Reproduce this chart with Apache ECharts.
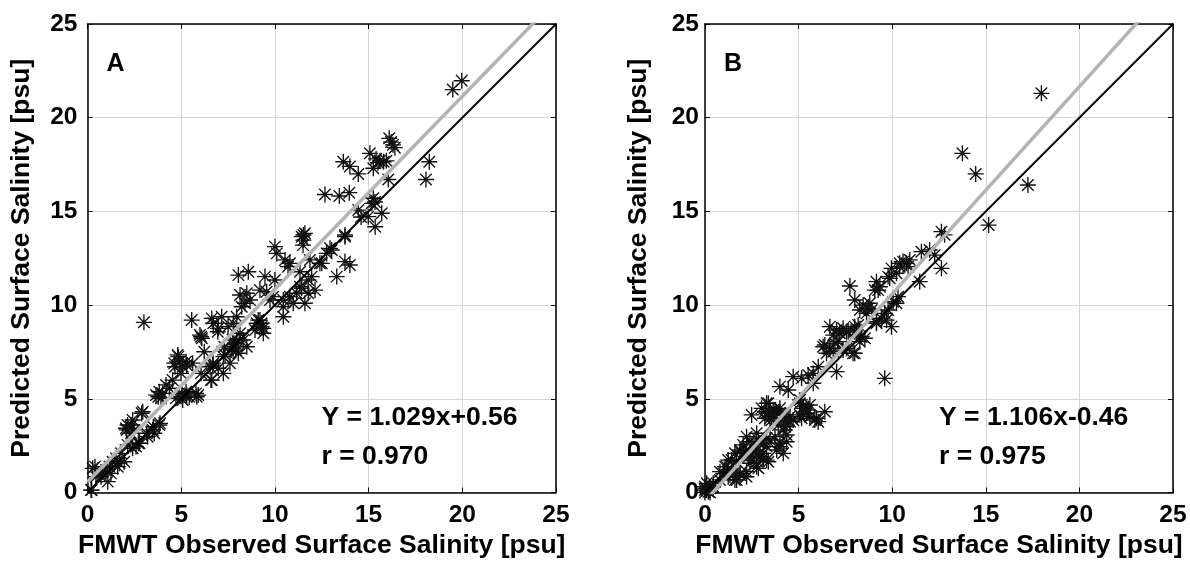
<!DOCTYPE html>
<html><head><meta charset="utf-8">
<script src="https://cdn.jsdelivr.net/npm/echarts@6/dist/echarts.min.js"></script>
<style>html,body{margin:0;padding:0;background:#fff}#c{width:1190px;height:565px}</style>
</head><body><div id="c"></div>
<script>
// Panel A: observed (x) and predicted (y) surface salinity [psu]
const obsA = [0.19,0.22,0.28,0.40,0.45,0.72,0.81,0.99,1.08,1.17,1.25,1.34,1.52,1.61,1.70,1.79,1.96,2.05,2.09,2.14,2.14,2.32,2.36,2.41,2.41,2.50,2.59,2.71,2.77,2.89,2.95,3.01,3.16,3.21,3.48,3.51,3.56,3.66,3.78,3.83,3.83,3.87,3.92,4.01,4.19,4.37,4.54,4.63,4.67,4.72,4.81,4.85,4.90,4.90,4.99,5.03,5.08,5.08,5.26,5.26,5.29,5.29,5.43,5.56,5.61,5.79,5.83,5.91,6.00,6.06,6.06,6.10,6.23,6.54,6.59,6.63,6.63,6.68,6.71,6.71,6.95,6.98,6.98,7.16,7.25,7.25,7.30,7.34,7.50,7.60,7.70,7.75,7.78,7.78,7.87,7.92,7.96,7.96,8.05,8.05,8.14,8.14,8.23,8.31,8.40,8.50,8.50,8.58,8.67,8.94,9.03,9.11,9.20,9.20,9.29,9.29,9.38,9.38,9.47,9.56,9.74,9.91,10.00,10.00,10.10,10.45,10.45,10.45,10.54,10.70,10.80,10.80,10.98,11.16,11.34,11.34,11.43,11.43,11.50,11.52,11.52,11.60,11.60,11.78,11.78,11.87,11.96,12.14,12.40,12.50,12.67,12.76,12.94,13.03,13.30,13.44,13.65,13.74,13.74,13.74,13.97,14.00,14.00,14.45,14.45,14.60,14.98,15.07,15.17,15.25,15.25,15.34,15.35,15.40,15.50,15.60,15.70,15.80,15.95,16.05,16.10,16.20,16.30,16.40,18.06,18.24,19.49,19.97];
const predA = [0.13,0.13,1.29,1.38,0.84,0.84,1.11,1.20,0.58,1.38,1.02,1.64,1.82,1.38,1.56,2.09,1.64,3.43,3.34,2.54,3.60,3.16,3.60,2.36,3.87,3.34,2.45,2.63,2.63,4.23,4.31,9.08,3.16,2.98,3.34,3.51,3.16,5.20,5.11,3.60,5.38,3.69,5.03,5.29,5.74,5.56,6.00,6.90,6.71,5.03,7.34,7.25,5.29,6.98,6.36,5.29,4.94,6.71,5.38,6.98,5.11,6.80,5.11,9.20,6.90,5.29,5.11,5.20,8.40,6.36,8.31,8.23,7.51,6.71,6.00,6.00,9.29,6.80,6.90,9.03,8.58,6.63,8.76,9.38,6.36,7.25,7.78,7.34,8.85,6.90,7.60,8.14,7.69,9.03,7.96,7.60,8.14,9.38,7.43,11.60,8.50,10.54,9.91,8.14,10.10,7.78,10.63,11.78,10.27,8.67,9.03,9.20,9.20,10.80,8.85,9.03,8.50,8.76,11.52,10.71,10.27,10.45,11.34,13.12,12.76,9.38,9.91,10.27,12.41,12.05,10.45,12.23,10.10,10.63,10.98,11.78,10.90,13.65,13.20,13.47,13.74,13.83,10.10,10.63,11.34,12.41,11.52,10.80,12.23,12.23,15.90,12.76,13.03,12.94,11.52,15.82,17.65,13.74,12.32,13.65,16.00,17.40,12.14,17.00,15.07,14.70,14.72,18.10,15.43,15.70,17.30,15.50,14.18,17.80,17.60,17.70,14.90,17.65,17.70,16.70,18.90,18.70,18.55,18.40,16.70,17.65,21.50,21.97];

// Panel B
const obsB = [0.00,0.00,0.05,0.09,0.09,0.18,0.27,0.27,0.00,0.44,0.44,0.80,0.80,0.98,1.07,1.16,1.24,1.24,1.33,1.42,1.42,1.51,1.60,1.60,1.69,1.69,1.87,1.87,1.87,1.87,2.04,2.22,2.22,2.22,2.22,2.22,2.31,2.40,2.40,2.49,2.58,2.76,2.76,2.76,2.76,2.85,2.85,2.94,2.94,3.02,3.11,3.11,3.11,3.20,3.20,3.29,3.29,3.29,3.29,3.29,3.38,3.38,3.47,3.47,3.47,3.56,3.64,3.74,3.74,3.83,3.83,3.91,4.00,4.00,4.00,4.00,4.00,4.18,4.18,4.18,4.27,4.27,4.36,4.36,4.36,4.45,4.54,4.54,4.71,4.71,5.07,5.07,5.07,5.16,5.16,5.25,5.25,5.43,5.51,5.51,5.60,5.60,5.78,5.78,5.87,5.96,6.05,6.05,6.31,6.40,6.40,6.49,6.67,6.67,6.85,6.85,6.94,7.03,7.03,7.11,7.20,7.38,7.38,7.56,7.56,7.65,7.74,7.91,8.00,8.00,8.00,8.00,8.09,8.18,8.27,8.27,8.36,8.45,8.54,8.63,8.72,8.80,8.90,9.07,9.16,9.16,9.16,9.25,9.34,9.43,9.60,9.60,9.70,9.78,9.78,9.87,9.96,9.96,10.05,10.23,10.23,10.31,10.40,10.40,10.58,10.76,10.85,10.94,11.47,11.56,12.00,12.27,12.63,12.63,12.80,13.75,14.46,15.15,17.25,17.97];
const predB = [0.00,0.13,0.22,0.13,0.49,0.04,0.00,0.22,0.31,0.31,0.49,0.67,1.11,1.02,1.38,1.38,0.84,1.73,0.93,1.20,1.73,1.02,0.67,2.09,0.67,1.64,0.93,1.02,2.18,2.27,2.54,0.84,1.11,2.09,2.27,2.98,1.91,1.56,2.71,4.14,1.73,1.38,2.00,2.27,3.16,1.29,2.80,1.91,2.63,4.49,1.82,2.09,2.63,3.96,4.31,1.73,2.45,2.89,4.23,4.76,1.64,4.76,2.80,3.96,4.31,3.87,4.40,2.98,4.40,2.27,4.23,3.60,2.45,2.63,4.23,4.49,5.65,2.09,3.34,3.96,3.51,4.14,2.71,3.07,3.60,5.47,3.78,4.05,3.87,6.18,4.14,4.76,4.94,3.96,6.09,4.49,4.58,4.23,4.40,6.27,4.05,4.67,5.83,6.36,3.87,3.96,3.78,6.71,7.78,4.31,7.87,7.43,7.69,8.85,7.51,8.40,7.96,6.45,8.67,8.05,8.50,7.60,8.76,7.69,8.58,8.58,11.02,7.43,7.43,8.58,8.85,10.27,8.40,8.94,8.05,9.74,8.31,10.00,8.23,9.56,9.83,10.10,9.74,10.80,9.03,9.11,11.25,10.80,10.98,9.29,6.09,9.56,9.20,11.52,9.74,11.43,8.85,11.96,10.18,10.10,11.70,10.45,12.05,12.23,12.32,12.23,12.05,12.41,11.25,12.85,12.94,12.67,11.96,13.92,13.75,18.10,17.00,14.27,16.41,21.30];

// Axis ticks and regression fits shown on the chart
const ticks = [0, 5, 10, 15, 20, 25];
const oneToOne = [0, 25];
const fitA = { slope: 1.029, intercept: 0.56, r: '0.970', label: 'Y = 1.029x+0.56' };
const fitB = { slope: 1.106, intercept: -0.46, r: '0.975', label: 'Y = 1.106x-0.46' };
const panelNames = ['A', 'B'];
const xTitle = 'FMWT Observed Surface Salinity [psu]';
const yTitle = 'Predicted Surface Salinity [psu]';

const FONT = '"Liberation Sans", Arial, sans-serif';
const chart = echarts.init(document.getElementById('c'), null, { renderer: 'canvas' });

const grids = [
  { left: 87.5, top: 24, width: 468.5, height: 468.5 },
  { left: 705, top: 24, width: 468, height: 468.5 }
];
const labelMarginY = [10, 6];

const xAxes = [], yAxes = [], series = [];
grids.forEach((g, i) => {
  const base = { min: 0, max: 25, interval: 5, gridIndex: i };
  xAxes.push(Object.assign({}, base, {
    type: 'value', position: 'bottom',
    axisLine: { show: true, onZero: false, lineStyle: { color: '#000', width: 1.5 } },
    axisTick: { show: true, inside: true, length: 5, lineStyle: { color: '#000', width: 1 } },
    axisLabel: { show: true, margin: 10, color: '#000', fontFamily: FONT, fontWeight: 'bold', fontSize: 24.5 },
    splitLine: { show: true, lineStyle: { color: '#d6d6d6', width: 1 } }
  }));
  xAxes.push(Object.assign({}, base, {
    type: 'value', position: 'top',
    axisLine: { show: true, onZero: false, lineStyle: { color: '#000', width: 1.5 } },
    axisTick: { show: true, inside: true, length: 5, lineStyle: { color: '#000', width: 1 } },
    axisLabel: { show: false }, splitLine: { show: false }
  }));
  yAxes.push(Object.assign({}, base, {
    type: 'value', position: 'left',
    axisLine: { show: true, onZero: false, lineStyle: { color: '#000', width: 1.5 } },
    axisTick: { show: true, inside: true, length: 5, lineStyle: { color: '#000', width: 1 } },
    axisLabel: { show: true, margin: labelMarginY[i], color: '#000', fontFamily: FONT, fontWeight: 'bold', fontSize: 24.5 },
    splitLine: { show: true, lineStyle: { color: '#d6d6d6', width: 1 } }
  }));
  yAxes.push(Object.assign({}, base, {
    type: 'value', position: 'right',
    axisLine: { show: true, onZero: false, lineStyle: { color: '#000', width: 1.5 } },
    axisTick: { show: true, inside: true, length: 5, lineStyle: { color: '#000', width: 1 } },
    axisLabel: { show: false }, splitLine: { show: false }
  }));
});

const star = 'path://M0,-1L0,1M-1,0L1,0M-0.72,-0.72L0.72,0.72M-0.72,0.72L0.72,-0.72';
const panels = [[obsA, predA, fitA], [obsB, predB, fitB]];
panels.forEach(([xs, ys, fit], i) => {
  series.push({
    type: 'scatter', xAxisIndex: i * 2, yAxisIndex: i * 2,
    data: xs.map((x, k) => [x, ys[k]]),
    symbol: star, symbolSize: 16,
    itemStyle: { color: '#000', borderColor: '#111', borderWidth: 1.35, opacity: 1 },
    z: 2, silent: true, animation: false
  });
  series.push({
    type: 'line', xAxisIndex: i * 2, yAxisIndex: i * 2,
    data: oneToOne.map(v => [v, v]),
    symbol: 'none', lineStyle: { color: '#000', width: 2 }, z: 3, clip: true, animation: false, silent: true
  });
  series.push({
    type: 'line', xAxisIndex: i * 2, yAxisIndex: i * 2,
    data: oneToOne.map(v => [v, fit.slope * v + fit.intercept]),
    symbol: 'none', lineStyle: { color: '#b3b3b3', width: 3.5 }, z: 4, clip: true, animation: false, silent: true
  });
});

function txt(text, x, y, size, opts) {
  return Object.assign({
    type: 'text', x: x, y: y, z: 100,
    style: { text: text, font: 'bold ' + size + 'px ' + FONT, fill: '#000',
             textAlign: 'left', textVerticalAlign: 'middle', align: 'left', verticalAlign: 'middle' }
  }, opts || {});
}
const graphics = [];
[fitA, fitB].forEach((fit, i) => {
  const g = grids[i];
  graphics.push(txt(panelNames[i], g.left + 19, 64, 25));
  graphics.push(txt(fit.label, g.left + 234, 418, 26.5));
  graphics.push(txt('r = ' + fit.r, g.left + 234, 457, 26.5));
  const cx = g.left + g.width / 2;
  const xt = txt(xTitle, cx, 546, 26.5);
  xt.style.textAlign = 'center'; xt.style.align = 'center';
  graphics.push(xt);
  const yt = txt(yTitle, g.left - 66, g.top + g.height / 2, 26.5, { rotation: Math.PI / 2 });
  yt.style.textAlign = 'center'; yt.style.align = 'center';
  graphics.push(yt);
});

chart.setOption({
  animation: false,
  backgroundColor: '#fff',
  grid: grids.map(g => Object.assign({ containLabel: false, show: false }, g)),
  xAxis: xAxes, yAxis: yAxes, series: series,
  graphic: graphics
});
</script></body></html>
